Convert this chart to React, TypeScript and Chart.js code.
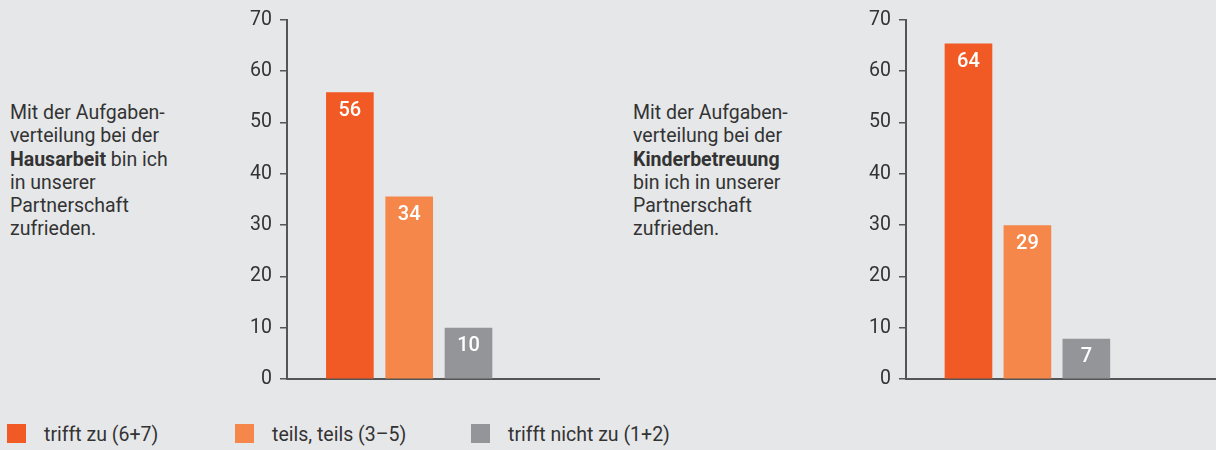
import React, { useEffect, useRef } from "react";
import { Chart, registerables } from "chart.js";

Chart.register(...registerables);

// ---- Data ----
const categories = ["trifft zu (6+7)", "teils, teils (3–5)", "trifft nicht zu (1+2)"];
const categoryColors = ["#F15A24", "#F5874A", "#939598"];

const hausarbeitValues = [55.8, 35.5, 9.9];
const hausarbeitLabels = ["56", "34", "10"];

const kinderValues = [65.3, 29.9, 7.8];
const kinderLabels = ["64", "29", "7"];

const yMin = 0;
const yMax = 70;
const yStep = 10;

const FONT = "Roboto, 'Liberation Sans', sans-serif";
const BG = "#E6E7E9";
const TEXT = "#333333";
const AXIS = "#555555";

type BarChartProps = {
  values: number[];
  labels: string[];
  left: number;
  width: number;
  axisWidth: number;
  padRight: number;
};

function BarChart({ values, labels, left, width, axisWidth, padRight }: BarChartProps) {
  const ref = useRef<HTMLCanvasElement | null>(null);
  const height = 410;

  useEffect(() => {
    if (!ref.current) return;
    const valueLabelPlugin = {
      id: "valueLabels",
      afterDatasetsDraw(chart: any) {
        const ctx = chart.ctx;
        const meta = chart.getDatasetMeta(0);
        ctx.save();
        ctx.fillStyle = "#FFFFFF";
        ctx.font = `500 20px ${FONT}`;
        ctx.textAlign = "center";
        ctx.textBaseline = "alphabetic";
        meta.data.forEach((bar: any, i: number) => {
          ctx.fillText(labels[i], bar.x, bar.y + 23);
        });
        ctx.restore();
      },
    };

    const chart = new Chart(ref.current, {
      type: "bar",
      data: {
        datasets: [
          {
            data: values.map((v, i) => ({ x: i + 1, y: v })),
            backgroundColor: categoryColors,
            borderWidth: 0,
            barThickness: 47,
          },
        ],
      },
      options: {
        responsive: false,
        animation: false,
        events: [],
        layout: { padding: { top: 18, bottom: 31, left: 0, right: padRight } },
        plugins: {
          legend: { display: false },
          tooltip: { enabled: false },
        },
        scales: {
          x: {
            type: "linear",
            offset: false,
            min: -0.06,
            max: 5.2,
            ticks: { display: false },
            grid: { display: true, drawOnChartArea: false, drawTicks: false, offset: false },
            border: { display: true, color: AXIS, width: 2 },
            afterFit: (s: any) => {
              s.height = 0;
            },
          },
          y: {
            min: yMin,
            max: yMax,
            ticks: {
              stepSize: yStep,
              color: TEXT,
              font: { family: FONT, size: 19.5 },
              padding: 8,
            },
            grid: {
              drawOnChartArea: false,
              drawTicks: true,
              tickLength: 7,
              color: AXIS,
              lineWidth: 1.5,
            },
            border: { display: true, color: AXIS, width: 2 },
            afterFit: (s: any) => {
              s.width = axisWidth;
            },
          },
        },
      },
      plugins: [valueLabelPlugin],
    } as any);
    return () => chart.destroy();
  }, [values, labels, axisWidth, padRight]);

  return (
    <canvas
      ref={ref}
      width={width}
      height={height}
      style={{ position: "absolute", left, top: 0, width, height }}
    />
  );
}

const descStyle: React.CSSProperties = {
  position: "absolute",
  top: 101,
  fontFamily: FONT,
  fontSize: 19.5,
  lineHeight: "23.3px",
  color: TEXT,
  whiteSpace: "nowrap",
};

const legendX = [7, 235, 471];

export default function App() {
  return (
    <div
      style={{
        position: "absolute",
        left: 0,
        top: 0,
        width: 1216,
        height: 450,
        background: BG,
        overflow: "hidden",
      }}
    >
      <div style={{ ...descStyle, left: 10 }}>
        Mit der Aufgaben-
        <br />
        verteilung bei der
        <br />
        <b>Hausarbeit</b> bin ich
        <br />
        in unserer
        <br />
        Partnerschaft
        <br />
        zufrieden.
      </div>
      <div style={{ ...descStyle, left: 633 }}>
        Mit der Aufgaben-
        <br />
        verteilung bei der
        <br />
        <b>Kinderbetreuung</b>
        <br />
        bin ich in unserer
        <br />
        Partnerschaft
        <br />
        zufrieden.
      </div>

      <BarChart values={hausarbeitValues} labels={hausarbeitLabels} left={230} width={380} axisWidth={57} padRight={11} />
      <BarChart values={kinderValues} labels={kinderLabels} left={850} width={366} axisWidth={56} padRight={0} />

      {categories.map((c, i) => (
        <React.Fragment key={c}>
          <div
            style={{
              position: "absolute",
              left: legendX[i],
              top: 424,
              width: 19,
              height: 19,
              background: categoryColors[i],
            }}
          />
          <div
            style={{
              position: "absolute",
              left: legendX[i] + 37,
              top: 426,
              fontFamily: FONT,
              fontSize: 19.5,
              lineHeight: "18px",
              color: TEXT,
              whiteSpace: "nowrap",
            }}
          >
            {c}
          </div>
        </React.Fragment>
      ))}
    </div>
  );
}
